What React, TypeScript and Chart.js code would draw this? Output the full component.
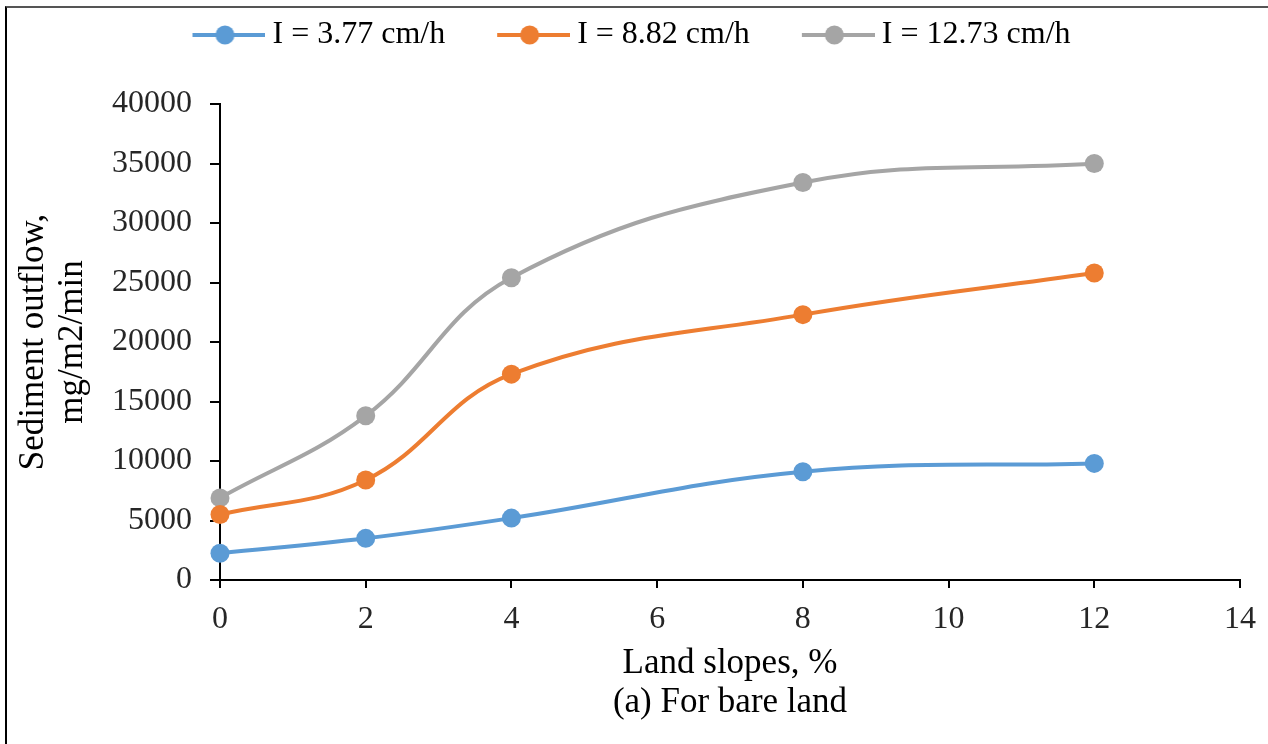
import React, { useEffect, useRef } from "react";
import { Chart, registerables } from "chart.js";

Chart.register(...registerables);

const slopes = [0, 2, 4, 8, 12];
const seriesLabels = ["I = 3.77 cm/h", "I = 8.82 cm/h", "I = 12.73 cm/h"];
const seriesLow = [2250, 3500, 5200, 9100, 9800];
const seriesMid = [5500, 8400, 17300, 22300, 25800];
const seriesHigh = [6900, 13800, 25400, 33400, 35000];
const seriesColors = ["#5B9BD5", "#ED7D31", "#A5A5A5"];
const xTitle = ["Land slopes, %", "(a) For bare land"];
const yTitle = ["Sediment outflow,", "mg/m2/min"];

const FONT = "'Liberation Serif', 'Times New Roman', serif";
const BOX_W = 97;
const PAD_LEFT = -12;

function makeLegendMarker(color: string): HTMLCanvasElement {
  const c = document.createElement("canvas");
  const w = BOX_W + 18;
  const h = 24;
  c.width = w;
  c.height = h;
  const ctx = c.getContext("2d")!;
  const start = BOX_W - 55;
  ctx.strokeStyle = color;
  ctx.lineWidth = 4;
  ctx.beginPath();
  ctx.moveTo(start, h / 2);
  ctx.lineTo(w, h / 2);
  ctx.stroke();
  ctx.fillStyle = color;
  ctx.beginPath();
  ctx.arc((start + w) / 2 - 4, h / 2, 9.5, 0, Math.PI * 2);
  ctx.fill();
  return c;
}

export default function App() {
  const ref = useRef<HTMLCanvasElement | null>(null);

  useEffect(() => {
    document.body.style.margin = "0";
    document.body.style.overflow = "hidden";
    const canvas = ref.current;
    if (!canvas) return;
    const allSeries = [seriesLow, seriesMid, seriesHigh];
    const markers = seriesColors.map(makeLegendMarker);
    const chart = new Chart(canvas, {
      type: "line",
      data: {
        datasets: allSeries.map((vals, i) => ({
          label: seriesLabels[i],
          data: slopes.map((x, j) => ({ x, y: vals[j] })),
          borderColor: seriesColors[i],
          backgroundColor: seriesColors[i],
          borderWidth: 4,
          pointRadius: 9.5,
          pointBorderWidth: 0,
          pointBackgroundColor: seriesColors[i],
          tension: 0.4,
          clip: false as any,
          fill: false,
        })),
      },
      options: {
        responsive: false,
        animation: false,
        devicePixelRatio: 1,
        layout: { padding: { top: 0, right: 26, bottom: 0, left: PAD_LEFT } },
        plugins: {
          tooltip: { enabled: false },
          title: {
            display: true,
            text: "",
            weight: 500,
            font: { size: 1, lineHeight: 1 },
            padding: { top: 0, bottom: 42 },
          } as any,
          legend: {
            display: true,
            position: "top",
            align: "center",
            labels: {
              usePointStyle: true,
              pointStyleWidth: BOX_W,
              boxHeight: 32,
              padding: 19,
              color: "#000",
              font: { family: FONT, size: 32 },
              generateLabels: (ch: any) =>
                ch.data.datasets.map((ds: any, i: number) => ({
                  text: ds.label,
                  pointStyle: markers[i],
                  fillStyle: seriesColors[i],
                  strokeStyle: seriesColors[i],
                  lineWidth: 0,
                  hidden: false,
                  datasetIndex: i,
                  fontColor: "#000",
                })),
            },
          },
        },
        scales: {
          x: {
            type: "linear",
            min: 0,
            max: 14,
            ticks: {
              stepSize: 2,
              color: "#262626",
              font: { family: FONT, size: 32 },
              padding: 12,
            },
            grid: {
              drawOnChartArea: false,
              drawTicks: true,
              tickLength: 8,
              color: "#000",
              lineWidth: 2,
            },
            border: { display: true, color: "#000", width: 2 },
            title: {
              display: true,
              text: xTitle,
              color: "#000",
              font: { family: FONT, size: 35, lineHeight: 1.115 },
              padding: { top: 0, bottom: 21.5 },
            },
            afterFit: (s: any) => {
              s.height = 164;
            },
          },
          y: {
            type: "linear",
            min: 0,
            max: 40000,
            ticks: {
              stepSize: 5000,
              color: "#262626",
              font: { family: FONT, size: 32 },
              padding: 18,
              callback: (v: any) => String(v),
            },
            grid: {
              drawOnChartArea: false,
              drawTicks: true,
              tickLength: 10,
              color: "#000",
              lineWidth: 2,
            },
            border: { display: true, color: "#000", width: 2 },
            title: {
              display: true,
              text: yTitle,
              color: "#000",
              font: { family: FONT, size: 35, lineHeight: 1.115 },
              padding: { top: 14.5 - PAD_LEFT, bottom: 0 },
            },
            afterFit: (s: any) => {
              s.width = 220 - PAD_LEFT;
            },
          },
        },
      },
    });
    return () => chart.destroy();
  }, []);

  return (
    <div style={{ position: "absolute", left: 0, top: 0, width: 1268, height: 744, background: "#fff" }}>
      <canvas ref={ref} width={1268} height={744} style={{ display: "block", width: 1268, height: 744 }} />
      <div
        style={{
          position: "absolute",
          left: 5,
          top: 6,
          width: 1263,
          height: 738,
          borderTop: "2px solid #555",
          borderLeft: "2px solid #000",
          boxSizing: "border-box",
          pointerEvents: "none",
        }}
      />
    </div>
  );
}
